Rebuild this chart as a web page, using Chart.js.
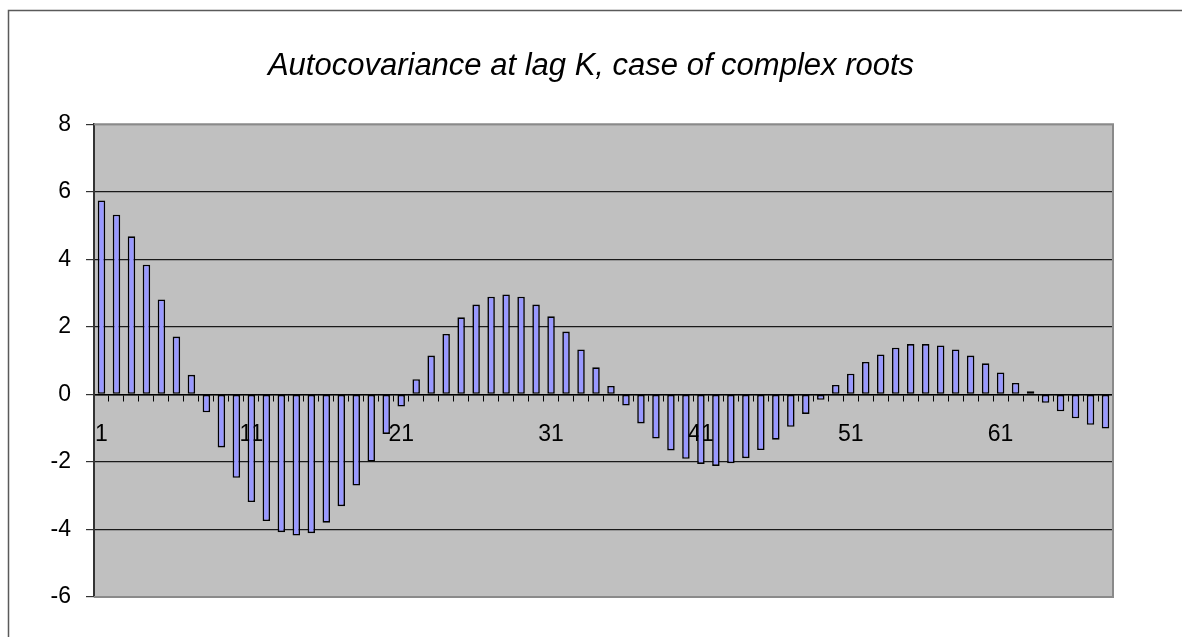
<!DOCTYPE html>
<html>
<head>
<meta charset="utf-8">
<title>Autocovariance at lag K</title>
<script src="https://cdn.jsdelivr.net/npm/chart.js@4/dist/chart.umd.min.js"></script>
<style>
    body { margin: 0; background: #fff; }
    #chart { display: block; }
</style>
</head>
<body>
<canvas id="chart" width="1182" height="637"></canvas>
<script>
// lag K = 1..68
const lags = [];
for (let k = 1; k <= 68; k++) lags.push(String(k));

// autocovariance
const autocov = [
    5.74, 5.32, 4.68, 3.84, 2.81, 1.71, 0.58, -0.53, -1.57, -2.47,
    -3.19, -3.75, -4.08, -4.18, -4.11, -3.80, -3.31, -2.70, -1.99, -1.17,
    -0.36, 0.45, 1.15, 1.79, 2.28, 2.66, 2.89, 2.96, 2.89, 2.66,
    2.31, 1.86, 1.33, 0.80, 0.25, -0.33, -0.86, -1.31, -1.66, -1.91,
    -2.06, -2.12, -2.04, -1.89, -1.65, -1.34, -0.96, -0.58, -0.16, 0.28,
    0.61, 0.96, 1.18, 1.38, 1.49, 1.49, 1.45, 1.33, 1.15, 0.92,
    0.65, 0.34, 0.09, -0.25, -0.50, -0.71, -0.90, -1.01
];

const yTicks = [-6, -4, -2, 0, 2, 4, 6, 8];
const titleText = "Autocovariance at lag K, case of complex roots";

const FONT = "'Liberation Sans', Arial, sans-serif";

// grey plot area + outer chart frame, like the old excel look
const backdrop = {
    id: 'backdrop',
    beforeDraw(chart) {
        const ctx = chart.ctx;
        const a = chart.chartArea;
        ctx.save();
        ctx.fillStyle = '#fff';
        ctx.fillRect(0, 0, chart.width, chart.height);
        ctx.strokeStyle = '#5a5a5a';
        ctx.lineWidth = 1.5;
        ctx.strokeRect(8.5, 10.5, chart.width + 20, chart.height + 20);
        ctx.fillStyle = '#c0c0c0';
        ctx.fillRect(a.left, a.top, a.right - a.left, a.bottom - a.top);
        ctx.restore();
    },
    afterDatasetsDraw(chart) {
        const ctx = chart.ctx;
        const a = chart.chartArea;
        ctx.save();
        ctx.strokeStyle = '#8a8a8a';
        ctx.lineWidth = 2;
        ctx.beginPath();
        ctx.moveTo(a.left, a.top);
        ctx.lineTo(a.right, a.top);
        ctx.lineTo(a.right, a.bottom);
        ctx.lineTo(a.left, a.bottom);
        ctx.stroke();
        ctx.restore();
    }
};

new Chart(document.getElementById('chart'), {
    type: 'bar',
    data: {
        labels: lags,
        datasets: [{
            data: autocov,
            backgroundColor: '#9999ff',
            borderColor: '#000',
            borderWidth: 1.6,
            borderSkipped: false,
            barPercentage: 0.5,
            categoryPercentage: 1
        }]
    },
    options: {
        responsive: false,
        animation: false,
        devicePixelRatio: 1,
        layout: { padding: { top: 0, left: 0, right: 0, bottom: 40 } },
        plugins: {
            legend: { display: false },
            tooltip: { enabled: false },
            title: {
                display: true,
                text: titleText,
                color: '#000',
                font: { family: FONT, size: 31, style: 'italic', weight: 'normal' },
                padding: { top: 48, bottom: 39 }
            }
        },
        scales: {
            x: {
                position: { y: 0 },
                offset: true,
                grid: {
                    offset: true,
                    drawOnChartArea: false,
                    drawTicks: true,
                    tickLength: 6,
                    color: '#000'
                },
                border: { display: true, color: '#000', width: 1.5 },
                ticks: {
                    autoSkip: false,
                    maxRotation: 0,
                    padding: 20,
                    color: '#000',
                    font: { family: FONT, size: 23 },
                    callback: function(val, i) {
                        return i % 10 === 0 ? lags[i] : '';
                    }
                }
            },
            y: {
                min: yTicks[0],
                max: yTicks[yTicks.length - 1],
                afterBuildTicks: function(scale) {
                    scale.ticks = yTicks.map(v => ({ value: v }));
                },
                afterFit: function(scale) {
                    // plot left edge at x=94
                    scale.width = 94;
                },
                grid: {
                    color: function(c) {
                        if (c.tick && (c.tick.value === 8 || c.tick.value === -6)) return '#8a8a8a';
                        return '#1a1a1a';
                    },
                    tickColor: '#333',
                    lineWidth: 1.2,
                    tickLength: 8
                },
                border: { display: true, color: '#333', width: 2 },
                ticks: {
                    padding: 15,
                    color: '#000',
                    font: { family: FONT, size: 23 }
                }
            },
            // empty right axis, only reserves the white strip right of the plot
            spacer: {
                axis: 'y',
                position: 'right',
                grid: { display: false },
                border: { display: false },
                ticks: { display: false },
                afterFit: function(scale) {
                    scale.width = 69;
                }
            }
        }
    },
    plugins: [backdrop]
});
</script>
</body>
</html>
